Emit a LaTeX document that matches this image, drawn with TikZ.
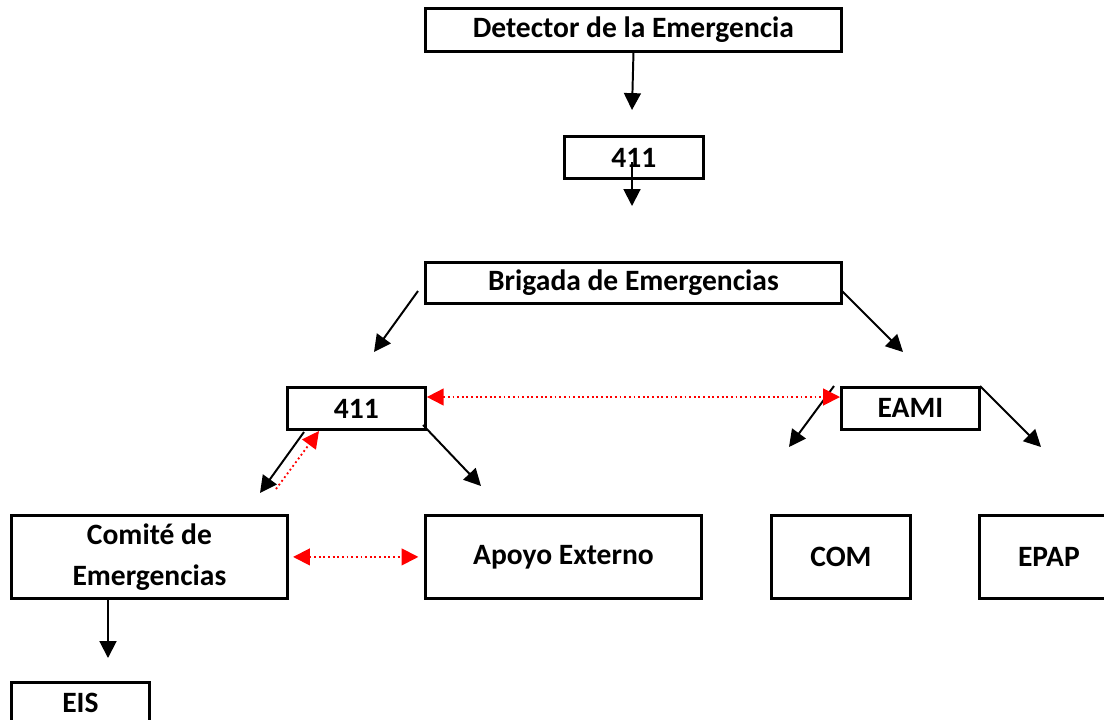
\documentclass[tikz,border=0pt]{standalone}
\usepackage{fontspec}
\setmainfont{Carlito}
\usetikzlibrary{arrows.meta}

\begin{document}
\begin{tikzpicture}[x=0.025cm, y=-0.025cm, >={Triangle[width=12pt,length=12pt]},
  box/.style={draw, line width=2pt, anchor=north west, inner sep=0pt,
    font=\fontsize{21}{29}\selectfont\bfseries, align=center},
  link/.style={->, line width=1.4pt},
  redlink/.style={<->, red, dotted, line width=1.3pt}]
\useasboundingbox (0,0) rectangle (1104,719);
\node (det) at (424,7) [box, minimum width=10.4cm, minimum height=1.075cm] {Detector de la Emergencia};
\node (top) at (563,135) [box, minimum width=3.475cm, minimum height=1.05cm] {411};
\node (brig) at (424,261) [box, minimum width=10.4cm, minimum height=1.025cm] {Brigada de Emergencias};
\node (mid) at (286,386) [box, minimum width=3.45cm, minimum height=1.05cm] {411};
\node (eami) at (840,386) [box, minimum width=3.45cm, minimum height=1.05cm] {EAMI};
\node (comite) at (10,514) [box, minimum width=6.9cm, minimum height=2.075cm] {Comité de\\Emergencias};
\node (apoyo) at (424,514) [box, minimum width=6.9cm, minimum height=2.075cm] {Apoyo Externo};
\node (com) at (770,514) [box, minimum width=3.475cm, minimum height=2.075cm] {COM};
\node (epap) at (978,514) [box, minimum width=3.475cm, minimum height=2.075cm] {EPAP};
\node (eis) at (10,681) [box, minimum width=3.45cm, minimum height=1.02cm] {EIS};
% free arrow ends
\coordinate (a1) at (632,110);
\coordinate (a2s) at (632,162);
\coordinate (a2) at (632,206);
\coordinate (b1s) at (418,291);
\coordinate (b1) at (374,352);
\coordinate (b2s) at (842,291);
\coordinate (b2) at (903,352);
\coordinate (c1s) at (304,432);
\coordinate (c1) at (260,493);
\coordinate (r1s) at (276,489);
\coordinate (r1) at (319,431);
\coordinate (c2s) at (423,425);
\coordinate (c2) at (481,486);
\coordinate (d1s) at (834,386);
\coordinate (d1) at (789,447);
\coordinate (d2s) at (980,386);
\coordinate (d2) at (1041,447);
\coordinate (e1) at (108,658);
\draw[link] (det.south) -- (a1);
\draw[link] (a2s) -- (a2);
\draw[link] (b1s) -- (b1);
\draw[link] (b2s) -- (b2);
\draw[link] (c1s) -- (c1);
\draw[->, red, dotted, line width=1.3pt] (r1s) -- (r1);
\draw[link] (c2s) -- (c2);
\draw[link] (d1s) -- (d1);
\draw[link] (d2s) -- (d2);
\draw[link] (comite.south -| e1) -- (e1);
\draw[redlink] ([yshift=-0.275cm]mid.north east) -- ([yshift=-0.275cm]eami.north west);
\draw[redlink] ([xshift=3pt]comite.east) -- ([xshift=-4pt]apoyo.west);
\end{tikzpicture}
\end{document}
